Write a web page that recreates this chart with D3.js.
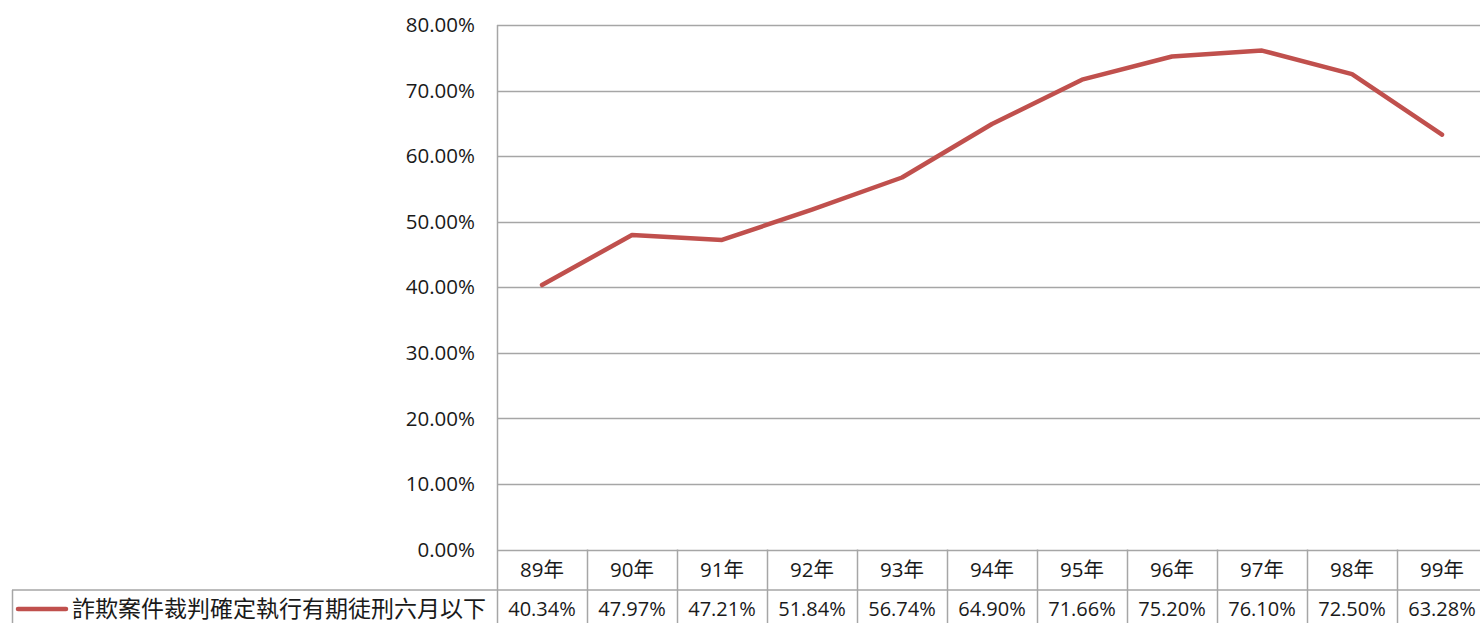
<!DOCTYPE html>
<html>
<head>
<meta charset="utf-8">
<script src="https://cdn.jsdelivr.net/npm/d3@7"></script>
<style>
  body { margin: 0; background: #fff; }
  svg { display: block; }
  text { font-family: "Open Sans", "Noto Sans CJK TC", sans-serif; fill: #1a1a1a; }
</style>
</head>
<body>
<figure style="margin:0"></figure>
<script>
const years = ['89年', '90年', '91年', '92年', '93年', '94年', '95年', '96年', '97年', '98年', '99年']
const rates = [0.4034, 0.4797, 0.4721, 0.5184, 0.5674, 0.6490, 0.7166, 0.7520, 0.7610, 0.7250, 0.6328]
const rateLabels = ['40.34%', '47.97%', '47.21%', '51.84%', '56.74%', '64.90%', '71.66%', '75.20%', '76.10%', '72.50%', '63.28%']
const yTicks = [0, 0.1, 0.2, 0.3, 0.4, 0.5, 0.6, 0.7, 0.8]
const seriesName = '詐欺案件裁判確定執行有期徒刑六月以下'

const width = 1480
const height = 623
const gridColor = '#a6a6a6'
const lineColor = '#c0504d'

const svg = d3.select('figure').append('svg')
  .attr('width', width)
  .attr('height', height)

const x = d3.scaleBand().domain(years).range([497, 1487])
const y = d3.scaleLinear().domain([0, 0.8]).range([549.5, 25])

// gridlines
svg.append('g')
  .selectAll('line')
  .data(yTicks)
  .join('line')
  .attr('x1', 497)
  .attr('x2', width)
  .attr('y1', d => Math.round(y(d)) + 0.5)
  .attr('y2', d => Math.round(y(d)) + 0.5)
  .attr('stroke', gridColor)
  .attr('stroke-width', 1.5)

// y tick labels
svg.append('g')
  .selectAll('text')
  .data(yTicks)
  .join('text')
  .attr('x', 475)
  .attr('y', d => y(d))
  .attr('dy', '0.35em')
  .attr('text-anchor', 'end')
  .attr('font-size', 20.5)
  .text(d => d3.format('.2%')(d))

// table rows
const rowTop = 590
svg.append('line')
  .attr('x1', 12).attr('x2', width)
  .attr('y1', rowTop).attr('y2', rowTop)
  .attr('stroke', gridColor).attr('stroke-width', 1.5)
svg.append('line')
  .attr('x1', 12.5).attr('x2', 12.5)
  .attr('y1', rowTop).attr('y2', height)
  .attr('stroke', gridColor).attr('stroke-width', 1.5)

// vertical axis / column dividers
svg.append('line')
  .attr('x1', 497.5).attr('x2', 497.5)
  .attr('y1', 25).attr('y2', height)
  .attr('stroke', gridColor).attr('stroke-width', 1.5)
svg.append('g')
  .selectAll('line')
  .data(years.slice(1))
  .join('line')
  .attr('x1', d => Math.round(x(d)) + 0.5)
  .attr('x2', d => Math.round(x(d)) + 0.5)
  .attr('y1', 549.5)
  .attr('y2', height)
  .attr('stroke', gridColor)
  .attr('stroke-width', 1.5)

// category labels
svg.append('g')
  .selectAll('text')
  .data(years)
  .join('text')
  .attr('x', d => x(d) + x.bandwidth() / 2)
  .attr('y', 570)
  .attr('dy', '0.35em')
  .attr('text-anchor', 'middle')
  .attr('font-size', 20.5)
  .text(d => d)

// value row
svg.append('g')
  .selectAll('text')
  .data(rateLabels)
  .join('text')
  .attr('x', (d, i) => x(years[i]) + x.bandwidth() / 2)
  .attr('y', 609)
  .attr('dy', '0.35em')
  .attr('text-anchor', 'middle')
  .attr('font-size', 20)
  .text(d => d)

// legend key
svg.append('line')
  .attr('x1', 18).attr('x2', 66)
  .attr('y1', 609).attr('y2', 609)
  .attr('stroke', lineColor)
  .attr('stroke-width', 4.5)
  .attr('stroke-linecap', 'round')
svg.append('text')
  .attr('x', 72)
  .attr('y', 609)
  .attr('dy', '0.35em')
  .attr('font-size', 23)
  .style('font-family', '"Noto Sans CJK TC", sans-serif')
  .text(seriesName)

// series line
const line = d3.line()
  .x((d, i) => x(years[i]) + x.bandwidth() / 2)
  .y(d => y(d))

svg.append('path')
  .datum(rates)
  .attr('d', line)
  .attr('fill', 'none')
  .attr('stroke', lineColor)
  .attr('stroke-width', 4.5)
  .attr('stroke-linejoin', 'round')
  .attr('stroke-linecap', 'round')
</script>
</body>
</html>
